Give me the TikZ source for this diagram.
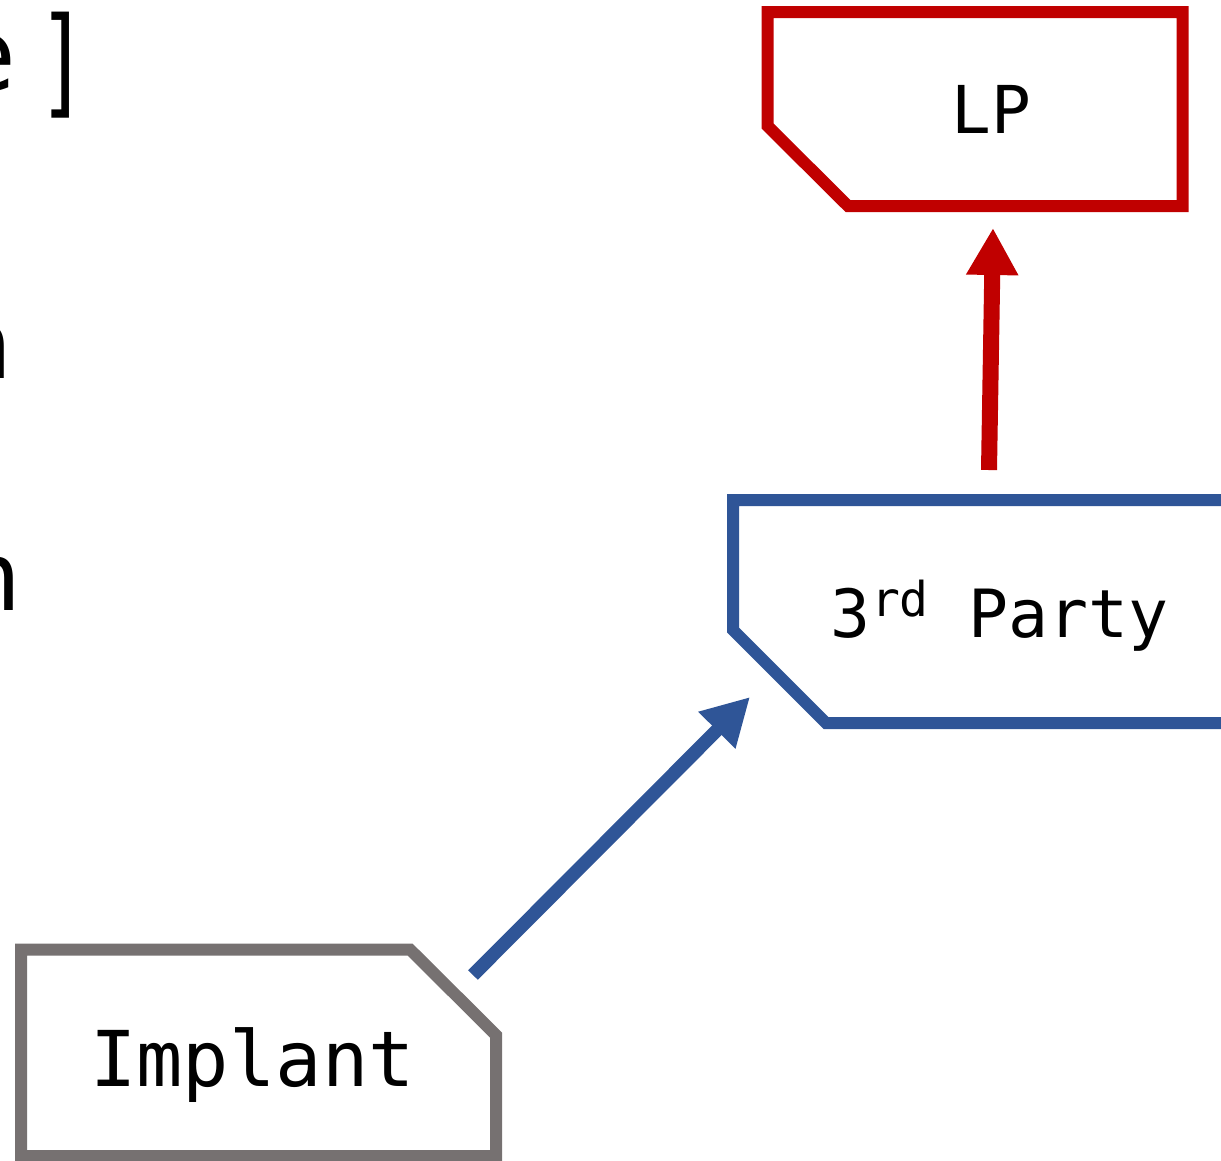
\documentclass[tikz,border=0pt]{standalone}
\usepackage{fontspec}
\setmainfont{DejaVu Sans Mono}
\usetikzlibrary{arrows.meta}
\definecolor{cred}{HTML}{C00000}
\definecolor{cblue}{HTML}{2F5597}
\definecolor{cgray}{HTML}{767171}
\tikzset{
  boxline/.style={line width=12pt, line join=miter, fill=white},
  lbl/.style={inner sep=0pt, anchor=base, text=black},
  conn/.style={line width=13.5pt, -{Triangle[length=47pt,width=49pt]}},
}
\begin{document}
\begin{tikzpicture}[x=1pt,y=-1pt]
\useasboundingbox (0,0) rectangle (1221,1160);
\clip (0,0) rectangle (1221,1160);
% partial texts at left edge
\node[lbl, anchor=base east, font=\fontsize{100}{110}\selectfont] (t1) at (17,90) {e};
\node[lbl, anchor=base east, yscale=1.4, font=\fontsize{85}{90}\selectfont] (t1b) at (89,102.3) {]};
\node[lbl, anchor=base east, font=\fontsize{95}{100}\selectfont] (t2) at (13,378) {n};
\node[lbl, anchor=base east, font=\fontsize{95}{100}\selectfont] (t3) at (22,610) {n};
% boxes
\draw[boxline, draw=cred] (767.5,12) -- (1182.5,12) -- (1182.5,206) -- (848,206) -- (767.5,126) -- cycle;
\draw[boxline, draw=cblue] (733,500) -- (1260,500) -- (1260,723) -- (826,723) -- (733,630) -- cycle;
\draw[boxline, draw=cgray] (21,949.5) -- (410,949.5) -- (496,1035) -- (496,1156) -- (21,1156) -- cycle;
\node[lbl, font=\fontsize{66}{70}\selectfont] (lp) at (991,133) {LP};
\node[lbl, font=\fontsize{66.5}{70}\selectfont] (tp) at (1000,637) {3\raisebox{21pt}{\fontsize{48}{50}\selectfont rd} Party};
\node[lbl, font=\fontsize{77}{80}\selectfont] (im) at (252.5,1086) {Implant};
% connectors
\coordinate (imOut) at (473,975);
\coordinate (tpIn) at (750,697);
\coordinate (tpOut) at (989,470);
\coordinate (lpIn) at (993,228);
\draw[conn, draw=cblue, fill=cblue] (imOut) -- (tpIn);
\draw[conn, draw=cred, fill=cred, line width=16pt] (tpOut) -- (lpIn);
\end{tikzpicture}
\end{document}
